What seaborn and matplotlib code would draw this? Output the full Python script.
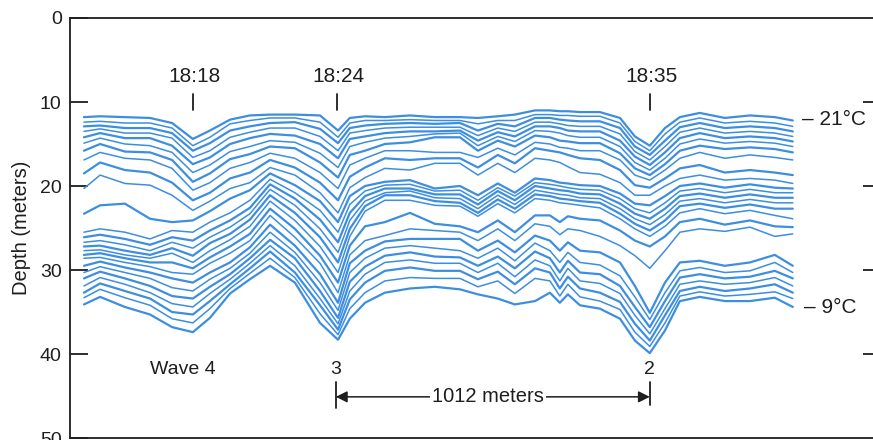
import matplotlib
matplotlib.use("Agg")
import matplotlib.pyplot as plt
import seaborn as sns
import pandas as pd

# ---------------- data ----------------
# distance along the track (meters) at which isotherm depths were read
distance_m = [45, 97, 177, 258, 329, 396, 451, 516, 580, 645, 725, 806, 864, 902, 951,
              1015, 1096, 1176, 1257, 1315, 1379, 1434, 1499, 1547, 1579, 1605, 1644,
              1708, 1773, 1821, 1869, 1918, 1966, 2030, 2111, 2192, 2272, 2330]

# isotherm temperatures (deg C), top to bottom
isotherm_temps = [21.0, 20.5, 20.0, 19.5, 19.0, 18.5, 18.0, 17.5,
                  17.0, 16.5, 16.0, 15.5, 15.0, 14.5, 14.0, 13.5, 13.0, 12.5,
                  12.0, 11.5, 11.0, 10.5, 10.0, 9.5, 9.0]

# depth (m) of the warm upper isotherms
upper_isotherms = [
    [11.8,11.7,11.8,11.9,12.5,14.4,13.4,12.1,11.6,11.5,11.5,11.6,13.4,11.9,11.7,11.8,11.6,11.8,11.8,11.9,11.7,11.5,11.0,11.0,11.1,11.1,11.2,11.2,11.9,14.1,15.2,13.1,11.8,11.3,11.9,11.6,11.8,12.2],
    [12.4,12.3,12.5,12.5,13.1,15.2,14.2,12.6,12.2,11.9,11.9,12.4,14.2,12.5,12.2,12.2,12.1,12.2,12.2,12.6,12.2,12.2,11.5,11.5,11.6,11.6,11.7,11.7,12.5,14.7,15.8,13.8,12.4,11.9,12.5,12.3,12.5,12.9],
    [12.9,12.8,13.1,13.1,13.7,15.8,14.9,13.4,12.9,12.5,12.4,13.2,14.9,13.1,12.8,12.6,12.5,12.6,12.5,13.4,12.6,12.9,11.9,11.9,12.1,12.2,12.3,12.3,13.1,15.3,16.3,14.6,13.0,12.5,13.1,12.9,13.1,13.5],
    [13.5,13.2,13.7,13.7,14.3,16.6,15.8,14.2,13.6,13.1,13.1,14.1,15.8,13.7,13.4,13.1,13.0,13.0,13.0,14.0,13.1,13.5,12.4,12.4,12.6,12.8,12.9,12.9,13.8,15.9,16.9,15.3,13.6,13.1,13.7,13.5,13.7,14.1],
    [14.2,13.7,14.3,14.3,15.2,17.4,16.6,15.0,14.3,13.8,14.0,15.0,16.7,14.4,14.1,13.7,13.5,13.5,13.4,14.6,13.6,14.1,12.9,12.9,13.1,13.4,13.5,13.5,14.6,16.5,17.5,16.0,14.3,13.7,14.3,14.1,14.3,14.7],
    [14.9,14.3,15.0,15.2,16.0,18.4,17.5,15.9,15.3,14.6,14.8,16.1,17.8,15.3,14.8,14.3,14.1,13.8,13.7,15.2,14.1,14.7,13.4,13.5,13.7,14.0,14.2,14.2,15.3,17.2,18.1,16.7,15.0,14.4,14.9,14.7,14.9,15.3],
    [15.8,15.0,15.9,16.0,16.9,19.5,18.5,16.8,16.2,15.3,15.5,17.2,19.0,16.3,15.8,15.0,14.8,14.2,14.2,15.8,14.6,15.3,14.0,14.2,14.6,14.7,14.9,14.9,16.1,17.9,18.7,17.4,15.8,15.2,15.6,15.4,15.6,16.0],
    [16.9,16.0,16.7,16.9,17.9,20.5,19.6,17.9,17.2,16.1,16.7,18.4,20.3,17.5,16.7,15.8,15.8,16.0,16.0,16.6,15.5,16.3,14.8,15.0,15.4,15.5,15.8,15.8,16.9,18.7,19.3,18.1,16.7,16.0,16.7,16.3,16.6,16.9],
]

# depth (m) of the middle isotherms
middle_isotherms = [
    [18.5,17.2,18.1,18.4,19.6,21.7,20.8,19.1,18.4,16.9,17.8,19.6,21.7,18.9,17.8,16.7,16.9,16.7,16.7,17.8,16.3,17.3,15.5,15.8,16.0,16.3,16.7,16.9,18.1,19.9,20.2,19.1,17.9,17.5,18.4,18.1,18.4,18.7],
    [20.3,18.7,19.7,19.9,21.1,22.9,21.8,20.3,19.6,17.8,18.7,20.8,23.2,20.2,19.0,17.9,18.1,17.3,17.3,18.7,17.3,18.4,16.7,16.9,17.2,17.7,18.4,18.6,19.6,21.1,21.1,20.0,19.1,18.7,19.3,19.1,19.3,19.7],
    [23.3,22.3,22.1,23.9,24.3,24.1,23.0,21.5,20.5,18.5,19.9,21.8,24.3,21.2,20.0,19.5,19.3,20.3,20.0,21.1,19.7,20.8,19.1,19.3,19.6,19.7,19.9,20.0,20.9,22.1,22.3,21.2,20.0,19.7,20.2,19.8,20.2,20.3],
    [25.5,25.1,25.5,26.3,25.3,25.5,24.3,23.2,21.7,19.2,20.8,22.9,25.5,22.2,20.6,19.9,19.8,20.6,20.5,21.7,20.2,21.2,19.6,19.8,20.0,20.2,20.4,20.5,21.5,22.7,23.2,22.0,20.6,20.3,20.8,20.4,20.8,20.8],
    [26.1,25.8,26.3,27.0,26.1,26.5,25.3,24.1,22.6,19.8,21.5,24.0,26.7,23.2,21.2,20.3,20.3,21.0,21.0,22.2,20.6,21.7,20.0,20.3,20.5,20.6,20.9,21.0,22.1,23.3,23.9,22.7,21.2,20.9,21.4,21.0,21.4,21.4],
    [26.7,26.5,27.0,27.7,26.7,27.4,26.1,24.9,23.3,20.4,22.3,25.1,27.9,24.1,21.8,20.8,20.6,21.4,21.5,22.7,21.1,22.2,20.5,20.8,21.0,21.1,21.4,21.5,22.7,23.9,24.6,23.4,21.8,21.5,22.0,21.6,22.0,22.0],
    [27.2,27.1,27.7,28.2,27.4,28.3,26.8,25.7,24.0,21.1,23.2,26.1,29.1,25.1,22.4,21.1,21.1,21.8,22.0,23.2,21.6,22.7,21.0,21.2,21.5,21.6,21.8,22.0,23.3,24.5,25.3,24.1,22.4,22.1,22.6,22.2,22.7,22.7],
    [27.7,27.6,28.2,28.6,28.0,29.1,27.7,26.4,24.8,21.8,24.1,27.2,30.3,26.0,23.0,21.7,21.7,22.3,22.4,23.6,22.1,23.2,21.5,21.7,22.0,22.1,22.3,22.6,23.9,25.1,26.0,24.8,23.2,22.7,23.3,22.9,23.5,23.9],
    [28.2,28.0,28.6,29.1,29.1,29.8,28.5,27.2,25.7,22.7,25.1,28.3,31.5,27.1,24.8,24.3,23.2,24.5,24.8,25.5,24.1,25.5,23.5,23.5,24.3,23.6,23.9,24.1,25.3,26.5,27.2,26.0,24.3,23.9,24.6,24.1,24.8,24.9],
    [28.6,28.5,29.1,29.6,30.3,30.5,29.2,28.0,26.5,23.5,26.1,29.2,32.7,28.2,26.5,25.9,25.1,25.3,25.5,26.5,25.1,26.5,24.5,24.8,25.8,25.1,25.3,26.0,27.1,28.3,29.8,27.7,25.5,25.1,25.4,24.9,26.0,25.7],
]

# depth (m) of the cold lower isotherms
lower_isotherms = [
    [29.5,29.0,29.7,30.3,31.0,31.5,30.3,29.1,27.3,24.6,27.1,30.5,33.9,29.2,27.7,26.6,26.3,26.3,26.3,27.7,26.5,27.9,25.9,26.5,27.7,26.7,27.7,27.9,29.1,31.9,35.1,31.5,29.1,28.9,29.5,29.1,28.2,29.5],
    [30.3,29.6,30.3,31.0,32.1,32.5,31.1,29.8,28.0,25.5,27.9,31.5,34.8,30.3,28.6,27.4,27.1,27.4,27.7,28.6,27.4,28.9,26.8,27.7,29.1,27.9,29.1,29.4,30.7,33.2,35.9,32.7,30.1,29.7,30.3,30.1,29.1,30.3],
    [31.0,30.2,31.0,31.9,33.1,33.4,32.0,30.5,28.6,26.4,28.6,32.5,35.7,31.4,29.6,28.3,27.9,28.4,28.5,29.5,28.4,29.8,27.8,28.6,30.3,28.9,30.3,30.5,31.9,34.4,36.8,33.7,30.9,30.5,31.0,30.8,30.1,31.0],
    [31.9,30.9,31.7,32.7,34.0,34.4,32.8,31.1,29.2,27.1,29.5,33.4,36.4,32.5,30.5,29.1,28.8,29.2,29.2,30.3,29.2,30.8,28.8,29.5,31.3,29.8,31.3,31.6,32.8,35.4,37.6,34.6,31.7,31.3,31.7,31.5,30.9,31.9],
    [32.7,31.6,32.5,33.4,35.0,35.3,33.7,31.7,29.8,27.8,30.3,34.2,37.1,33.5,31.5,30.1,29.7,30.1,30.1,31.1,30.2,31.7,29.8,30.3,32.2,30.8,32.2,32.7,33.8,36.4,38.4,35.4,32.5,32.0,32.5,32.2,31.7,32.7],
    [33.3,32.3,33.3,34.2,35.8,36.3,34.6,32.2,30.4,28.6,30.9,35.2,37.7,34.6,32.7,31.3,30.9,31.0,31.0,32.0,31.3,32.8,31.0,31.3,33.1,31.7,33.2,33.7,34.7,37.4,39.1,36.3,33.1,32.6,33.1,32.9,32.6,33.4],
    [34.1,33.2,34.4,35.3,36.8,37.4,35.7,32.8,31.1,29.5,31.5,36.3,38.3,35.8,33.9,32.7,32.2,32.0,32.3,32.9,33.4,34.1,33.7,32.7,33.9,32.9,34.2,34.6,35.8,38.4,39.9,37.2,33.7,33.2,33.7,33.7,33.3,34.4],
]

# time marks along the track
event_labels = ["18:18", "18:24", "18:35"]
event_dist = [396, 861, 1869]

# wave crossings
wave_labels = ["Wave 4", "3", "2"]
wave_dist = [364, 857, 1869]
wave_span_m = 1012

y_ticks = [0, 10, 20, 30, 40, 50]
right_ticks = [10, 20, 30, 40]

# ---------------- plot ----------------
sns.set_theme(style="white")
plt.rcParams['font.family'] = ['Liberation Sans', 'DejaVu Sans']

LINE = "#3d8ee0"
INK = "#1e1e1e"

fig = plt.figure(figsize=(8.73, 4.40), dpi=100)
ax = fig.add_axes([70 / 873, 2 / 440, 805 / 873, 420 / 440])

all_lines = upper_isotherms + middle_isotherms + lower_isotherms
rows = []
for temp, depths in zip(isotherm_temps, all_lines):
    for x, d in zip(distance_m, depths):
        rows.append({"distance": x, "depth": d, "temp": temp})
df = pd.DataFrame(rows)

for temp, sub in df.groupby("temp", sort=False):
    lw = 1.6 if float(temp).is_integer() else 1.1
    sns.lineplot(data=sub, x="distance", y="depth", ax=ax, color=LINE,
                 linewidth=lw, estimator=None, sort=False, legend=False)

ax.set_xlim(0, 2595)
ax.set_ylim(50, 0)
ax.set_xticks([])
ax.set_yticks(y_ticks)
ax.set_xlabel("")
ax.set_ylabel("Depth (meters)", fontsize=14.5, color=INK)
ax.yaxis.set_label_coords(-0.049, 0.5)
ax.tick_params(axis='y', direction='in', length=13, width=1.3, pad=6,
               labelsize=14, colors=INK, left=True, right=False)
for side in ["left", "top", "bottom"]:
    ax.spines[side].set_visible(True)
    ax.spines[side].set_color(INK)
    ax.spines[side].set_linewidth(1.3)
ax.spines["right"].set_visible(False)

sec = ax.secondary_yaxis('right')
sec.set_yticks(right_ticks)
sec.tick_params(direction='in', length=9, width=1.3, labelright=False, colors=INK)
sec.spines['right'].set_visible(False)

# time marks
for lab, x in zip(event_labels, event_dist):
    ax.text(x + 4, 7.0, lab, ha='center', va='center', fontsize=15, color=INK)
    ax.plot([x, x], [9.0, 10.9], color=INK, lw=1.3)

# temperature labels
ax.text(2360, 12.1, "– 21°C", ha='left', va='center', fontsize=15, color=INK)
ax.text(2366, 34.5, "– 9°C", ha='left', va='center', fontsize=15, color=INK)

# wave labels
for lab, x in zip(wave_labels, wave_dist):
    ax.text(x, 41.9, lab, ha='center', va='center', fontsize=14, color=INK)

# distance arrow
x0, x1 = wave_dist[1], wave_dist[1] + wave_span_m
ym = 45.1
ax.plot([x0, x0], [43.3, 46.4], color=INK, lw=1.3)
ax.plot([x1, x1], [43.3, 46.1], color=INK, lw=1.3)
xc = (x0 + x1) / 2 - 15
for tgt in (x0, x1):
    ax.annotate("", xy=(tgt, ym), xytext=(xc, ym),
                arrowprops=dict(arrowstyle="-|>", color=INK, lw=1.1,
                                mutation_scale=17, shrinkA=0, shrinkB=0))
ax.text(xc, ym, f"{wave_span_m} meters", ha='center', va='center', fontsize=14.5,
        color=INK, bbox=dict(facecolor='white', edgecolor='none', pad=1.5))

fig.savefig("out.png", dpi=100)
